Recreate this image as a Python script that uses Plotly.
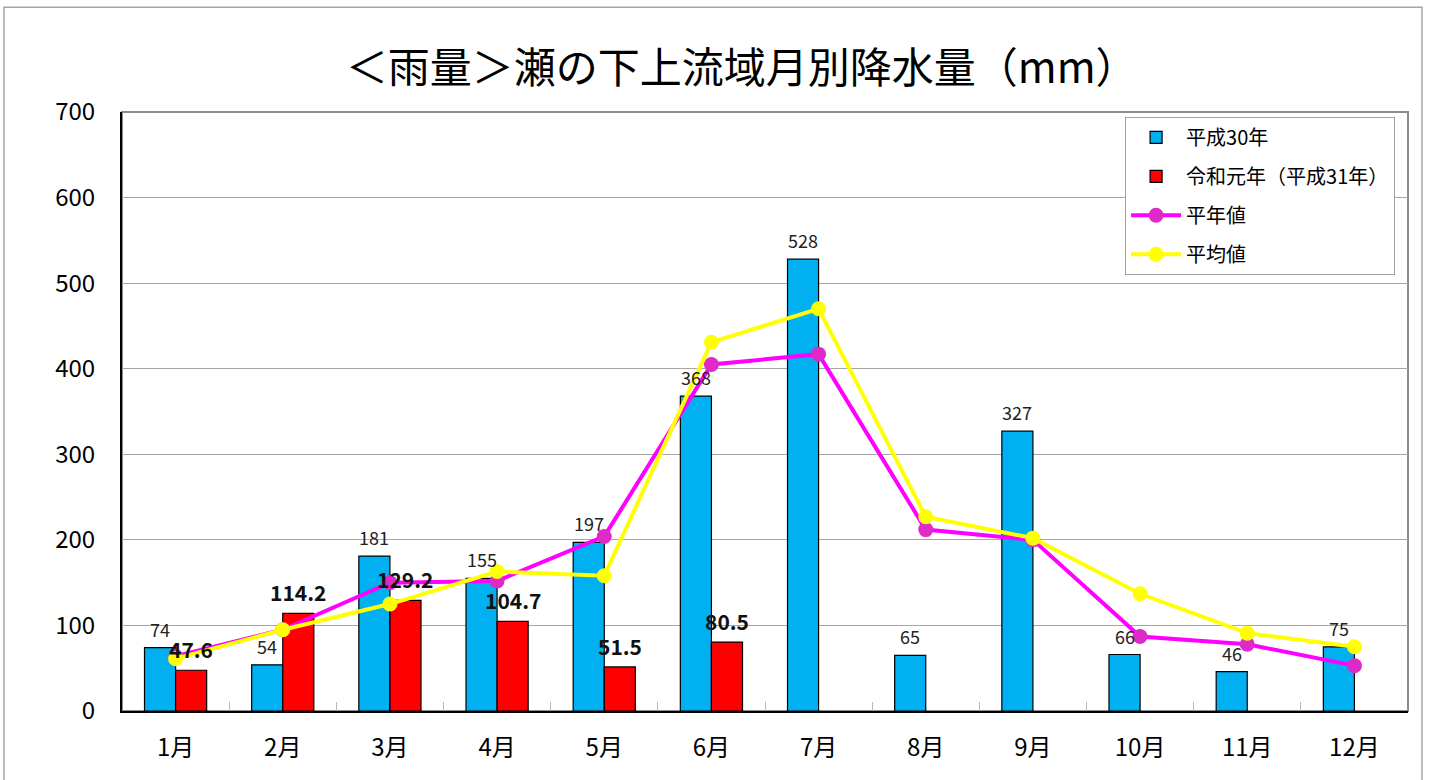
import plotly.graph_objects as go

months = ["1月", "2月", "3月", "4月", "5月", "6月", "7月", "8月", "9月", "10月", "11月", "12月"]
h30 = [74, 54, 181, 155, 197, 368, 528, 65, 327, 66, 46, 75]
r1 = [47.6, 114.2, 129.2, 104.7, 51.5, 80.5, None, None, None, None, None, None]
normal = [64, 95, 150, 152, 204, 405, 417, 212, 200, 87, 78, 53]
average = [61, 95, 125, 163, 158, 431, 470, 227, 202, 137, 91, 75]

title_text = "＜雨量＞瀬の下上流域月別降水量（mm）"
font_family = "Noto Sans CJK JP"

fig = go.Figure()

fig.add_trace(go.Bar(
    x=months, y=h30, name="平成30年", legendgroup="a",
    marker=dict(color="#00B0F0", line=dict(color="#000000", width=1.2)),
))
fig.add_trace(go.Bar(
    x=months, y=r1, name="令和元年（平成31年）", legendgroup="b",
    marker=dict(color="#FF0000", line=dict(color="#000000", width=1.2)),
))
fig.add_trace(go.Scatter(
    x=months, y=normal, name="平年値", legendgroup="c", mode="lines+markers",
    line=dict(color="#FF00FF", width=4),
    marker=dict(color="#E02AC8", size=15),
))
fig.add_trace(go.Scatter(
    x=months, y=average, name="平均値", legendgroup="d", mode="lines+markers",
    line=dict(color="#FFFF00", width=4),
    marker=dict(color="#FFFF00", size=15),
))

# value labels above each bar, drawn on top of the lines
half_bar_px = 15.5
for m, v in zip(months, h30):
    fig.add_annotation(x=m, y=v, xref="x", yref="y", text=str(v), showarrow=False,
                       xshift=-half_bar_px, yshift=19, yanchor="middle",
                       font=dict(size=18, color="#222222", family=font_family))
for m, v in zip(months, r1):
    if v is None:
        continue
    fig.add_annotation(x=m, y=v, xref="x", yref="y", text=f"<b>{v:.1f}</b>", showarrow=False,
                       xshift=half_bar_px, yshift=21, yanchor="middle",
                       font=dict(size=21, color="#111111", family=font_family))

# outer chart frame and plot-area frame
fig.add_shape(type="rect", xref="paper", yref="paper",
              x0=-0.0918, x1=1.0109, y0=-0.2, y1=1.175,
              line=dict(color="#A6A6A6", width=1.5), layer="below")
fig.add_shape(type="rect", xref="paper", yref="paper",
              x0=0, x1=1, y0=0, y1=1,
              line=dict(color="#8C8C8C", width=2), layer="below")

fig.update_layout(
    width=1429, height=780,
    margin=dict(l=122, r=21, t=112, b=69),
    paper_bgcolor="white", plot_bgcolor="white",
    font=dict(family=font_family, color="#000000"),
    title=dict(text=title_text, x=0.519, xref="container", xanchor="center",
               y=0.913, yref="container", yanchor="middle",
               font=dict(size=42, family=font_family, color="#000000")),
    barmode="group", bargap=0.42, bargroupgap=0,
    showlegend=True,
    legend=dict(x=0.78, y=0.992, xanchor="left", yanchor="top",
                bgcolor="white", bordercolor="#A0A0A0", borderwidth=1,
                font=dict(size=20, family=font_family, color="#000000"),
                traceorder="grouped", tracegroupgap=10, itemwidth=50),
    xaxis=dict(type="category", range=[-0.5, 11.5], autorange=False,
               showline=True, linecolor="#000000", linewidth=2,
               ticks="inside", tickson="boundaries", ticklen=9, tickcolor="#B8B8B8",
               tickfont=dict(size=24, family=font_family), ticklabelstandoff=14,
               showgrid=False, zeroline=False),
    yaxis=dict(range=[0, 700], dtick=100, showline=True, linecolor="#000000", linewidth=2,
               showgrid=True, gridcolor="#A6A6A6", gridwidth=1,
               ticks="", tickfont=dict(size=24, family=font_family),
               ticklabelstandoff=20, zeroline=False),
)

fig.write_html("out.html")
